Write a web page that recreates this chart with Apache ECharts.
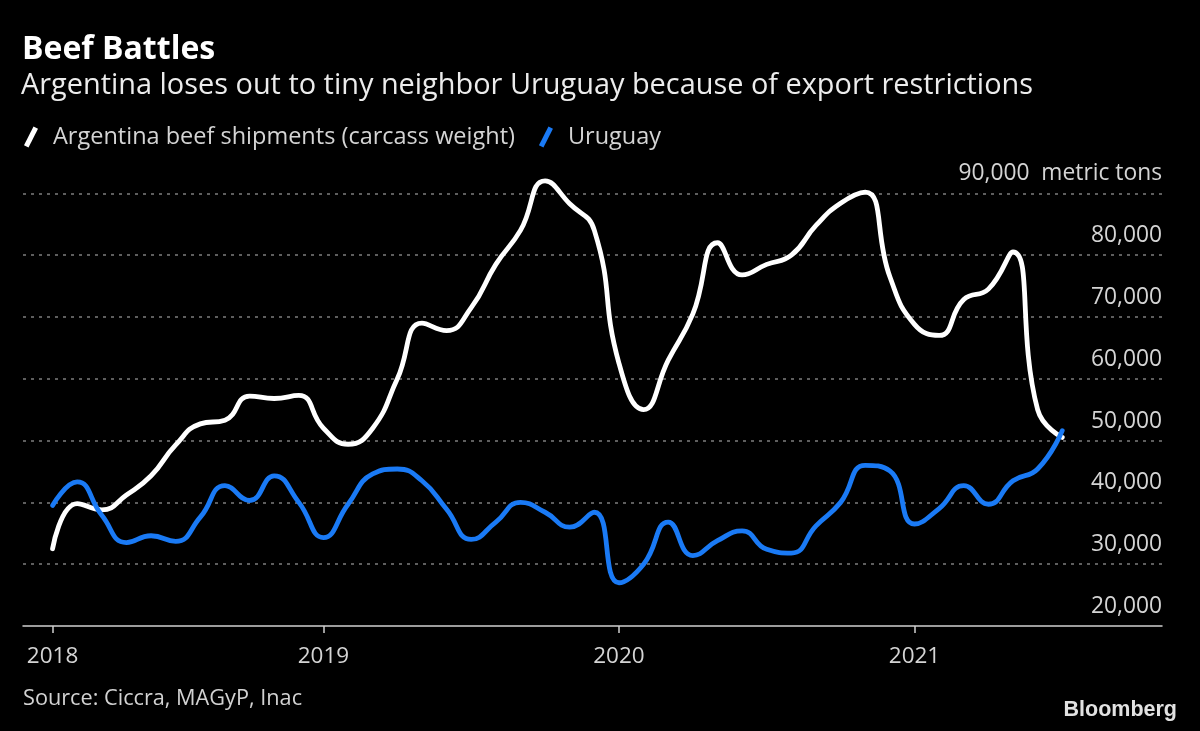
<!DOCTYPE html>
<html>
<head>
<meta charset="utf-8">
<script src="https://cdn.jsdelivr.net/npm/echarts@6/dist/echarts.min.js"></script>
<style>
  html, body { margin: 0; padding: 0; background: #000; }
  #chart { width: 1200px; height: 731px; }
</style>
</head>
<body>
<div id="chart"></div>
<script>
// Month-end observations, Jan 2018 .. Jun 2021
const months = [
  '2018-01','2018-02','2018-03','2018-04','2018-05','2018-06','2018-07','2018-08','2018-09','2018-10','2018-11','2018-12',
  '2019-01','2019-02','2019-03','2019-04','2019-05','2019-06','2019-07','2019-08','2019-09','2019-10','2019-11','2019-12',
  '2020-01','2020-02','2020-03','2020-04','2020-05','2020-06','2020-07','2020-08','2020-09','2020-10','2020-11','2020-12',
  '2021-01','2021-02','2021-03','2021-04','2021-05','2021-06'
];
// metric tons
const argentina = [
  32500, 39800, 38800, 41200, 44300, 49300, 52700, 53300, 57200, 56800, 57300, 52000,
  49400, 52000, 60000, 69000, 67800, 71500, 78500, 84000, 92000, 88300, 84000, 62500,
  55000, 63000, 70500, 82000, 76800, 78500, 80000, 84800, 88400, 90200, 76500, 68800,
  67000, 72800, 74500, 80500, 55000, 50500
];
const uruguay = [
  39500, 43300, 37900, 33500, 34600, 33700, 37600, 42700, 40300, 44300, 40000, 34300,
  39700, 44600, 45400, 43500, 38900, 34000, 36800, 40000, 38400, 36000, 38400, 27000,
  30000, 36800, 31400, 33800, 35400, 32400, 31800, 36200, 40000, 46000, 45100, 36500,
  39000, 42700, 39700, 43500, 45400, 51600
];
const tickYears = ['2018', '2019', '2020', '2021'];
const tickMonths = ['2018-01', '2019-01', '2020-01', '2021-01'];
const seriesNames = ['Argentina beef shipments (carcass weight)', 'Uruguay'];

// axis position of a month-end: months elapsed since 1 Jan 2018
function monthPos(m) {
  const [y, mo] = m.split('-').map(Number);
  return (y - 2018) * 12 + mo;
}
// year ticks: first tick sits on first observation, later ones on 1 January
const tickPos = tickMonths.map((m, i) => i === 0 ? monthPos(m) : monthPos(m) - 1);

const FONT = 'Open Sans';
const chart = echarts.init(document.getElementById('chart'), null, { renderer: 'canvas' });

const slash = 'path://M9.5,0 L14,2.2 L4.5,21 L0,18.8 Z';

chart.setOption({
  backgroundColor: '#000000',
  animation: false,
  title: [
    { text: 'Beef Battles', left: 22, top: 34, padding: 0,
      textStyle: { fontFamily: FONT, fontWeight: 'bold', fontSize: 32, color: '#ffffff' } },
    { text: 'Argentina loses out to tiny neighbor Uruguay because of export restrictions', left: 21, top: 71, padding: 0,
      textStyle: { fontFamily: FONT, fontWeight: 'normal', fontSize: 28.9, color: '#ececec' } },
    { text: 'Source: Ciccra, MAGyP, Inac', left: 23, top: 688, padding: 0,
      textStyle: { fontFamily: FONT, fontWeight: 'normal', fontSize: 21.7, color: '#d2d2d2' } },
    { text: 'Bloomberg', right: 23, top: 699, padding: 0,
      textStyle: { fontFamily: 'Liberation Sans', fontWeight: 'bold', fontSize: 21.5, color: '#e2e2e2' } }
  ],
  legend: {
    left: 24, top: 125, padding: 0,
    itemWidth: 14, itemHeight: 21, itemGap: 24,
    icon: slash,
    data: seriesNames,
    textStyle: { fontFamily: FONT, fontSize: 23.5, color: '#d4d4d4', padding: [0, 0, 0, 10] }
  },
  grid: { left: 23, right: 38, top: 193.3, bottom: 105, containLabel: false },
  xAxis: {
    type: 'value', min: -0.2, max: 46.05,
    axisLine: { show: true, lineStyle: { color: '#d0d0d0', width: 1.5 } },
    axisTick: { show: true, customValues: tickPos, length: 7, lineStyle: { color: '#d0d0d0', width: 1.5 } },
    axisLabel: {
      customValues: tickPos, margin: 19, color: '#d4d4d4', fontFamily: FONT, fontSize: 22.5,
      formatter: v => tickYears[tickPos.indexOf(v)]
    },
    splitLine: { show: false }
  },
  yAxis: {
    type: 'value', position: 'right', min: 20000, max: 90000, interval: 10000,
    axisLine: { show: false }, axisTick: { show: false },
    splitLine: { show: true, showMinLine: false, lineStyle: { color: '#7e7e7e', type: [3, 5], width: 1.5 } },
    axisLabel: {
      inside: true, margin: 0, showMinLabel: true, showMaxLabel: true,
      color: '#d4d4d4', fontFamily: FONT, fontSize: 22.8,
      verticalAlign: 'bottom', padding: [0, 0, 8, 0],
      formatter: v => v === 90000 ? '90,000  metric tons' : v.toLocaleString('en-US')
    }
  },
  series: [
    { name: seriesNames[0], type: 'line', smooth: 0.5, symbol: 'none', color: '#ffffff', clip: false,
      lineStyle: { color: '#ffffff', width: 4.8, cap: 'round' },
      data: months.map((m, i) => [monthPos(m), argentina[i]]) },
    { name: seriesNames[1], type: 'line', smooth: 0.5, symbol: 'none', color: '#1a7af5', clip: false,
      lineStyle: { color: '#1a7af5', width: 4.8, cap: 'round' },
      data: months.map((m, i) => [monthPos(m), uruguay[i]]) }
  ]
});
</script>
</body>
</html>
